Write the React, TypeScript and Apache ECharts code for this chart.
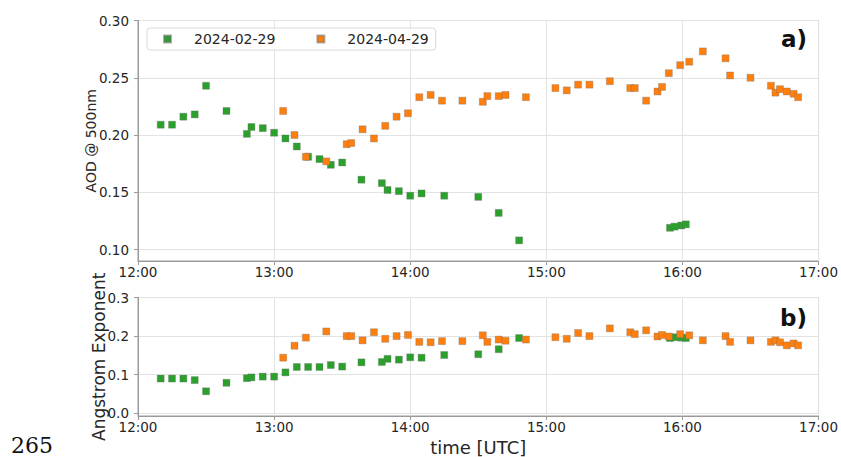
import React, { useEffect, useRef } from "react";
import * as echarts from "echarts";

// Observation times, minutes after midnight (UTC)
const FEB_TIME = [
  730, 735, 740, 745, 750, 759, 768, 770, 775, 780,
  785, 790, 795, 800, 805, 810, 818.5, 827.5, 830, 835,
  840, 845, 855, 870, 879, 888, 954.5, 956.5, 959.5, 961.5,
];
// Aerosol optical depth at 500 nm, 2024-02-29
const FEB_AOD = [
  0.209, 0.209, 0.216, 0.218, 0.243, 0.221, 0.201, 0.207, 0.206, 0.202,
  0.197, 0.19, 0.181, 0.179, 0.174, 0.176, 0.161, 0.158, 0.152, 0.151,
  0.147, 0.149, 0.147, 0.146, 0.132, 0.108, 0.119, 0.12, 0.121, 0.122,
];
// Angstrom exponent, 2024-02-29
const FEB_AE = [
  0.09, 0.09, 0.09, 0.086, 0.057, 0.079, 0.091, 0.093, 0.095, 0.095,
  0.106, 0.12, 0.12, 0.12, 0.125, 0.121, 0.132, 0.133, 0.141, 0.139,
  0.145, 0.144, 0.151, 0.153, 0.166, 0.195, 0.195, 0.197, 0.196, 0.195,
];

const APR_TIME = [
  784, 789, 794, 803, 812, 814, 819, 824, 829, 834,
  839, 844, 849, 854, 863, 872, 874, 879, 882, 891,
  904, 909, 914, 919, 928, 937, 939, 944, 949, 951,
  954, 959, 963, 969, 979, 981, 990, 999, 1001, 1003,
  1006, 1009, 1011,
];
const APR_AOD = [
  0.221, 0.2, 0.181, 0.177, 0.192, 0.193, 0.205, 0.197, 0.208, 0.216,
  0.219, 0.233, 0.235, 0.23, 0.23, 0.229, 0.234, 0.234, 0.235, 0.233,
  0.241, 0.239, 0.244, 0.244, 0.247, 0.241, 0.241, 0.23, 0.238, 0.242,
  0.254, 0.261, 0.264, 0.273, 0.267, 0.252, 0.25, 0.243, 0.237, 0.24,
  0.238, 0.236, 0.233,
];
const APR_AE = [
  0.144, 0.175, 0.196, 0.212, 0.2, 0.2, 0.189, 0.21, 0.193, 0.2,
  0.203, 0.185, 0.184, 0.187, 0.187, 0.202, 0.185, 0.191, 0.188, 0.191,
  0.197, 0.193, 0.208, 0.2, 0.22, 0.21, 0.205, 0.215, 0.199, 0.203,
  0.199, 0.205, 0.202, 0.189, 0.2, 0.185, 0.189, 0.185, 0.189, 0.184,
  0.176, 0.181, 0.176,
];

const SERIES_NAMES = ["2024-02-29", "2024-04-29"];
const AOD_TICKS = [0.1, 0.15, 0.2, 0.25, 0.3];
const AE_TICKS = [0.0, 0.1, 0.2, 0.3];

const GREEN = "#2ca02c";
const ORANGE = "#ff7f0e";
const EDGE = "rgba(110,110,110,0.55)";
const SPINE = "#9a9a9a";
const GRID = "#e3e3e3";
const TEXT = "#262626";
const FONT = "DejaVu Sans";

const clock = (m: number) =>
  `${String(Math.floor(m / 60)).padStart(2, "0")}:${String(m % 60).padStart(2, "0")}`;

const pairs = (t: number[], v: number[]) => t.map((x, i) => [x, v[i]]);

function xAxisFor(gridIndex: number, withName: boolean) {
  return {
    type: "value",
    gridIndex,
    min: 720,
    max: 1020,
    interval: 60,
    name: withName ? "time [UTC]" : "",
    nameLocation: "middle",
    nameGap: 22,
    nameMoveOverlap: false,
    nameTextStyle: { fontSize: 18, color: TEXT, fontFamily: FONT },
    axisLine: { show: true, onZero: false, lineStyle: { color: SPINE, width: 1 } },
    axisTick: { show: true, length: 4, lineStyle: { color: SPINE } },
    axisLabel: { formatter: clock, fontSize: 13.5, color: TEXT, fontFamily: FONT, margin: 4 },
    splitLine: { show: true, lineStyle: { color: GRID, width: 1 } },
  };
}

function yAxisFor(
  gridIndex: number,
  min: number,
  max: number,
  ticks: number[],
  digits: number,
  name: string,
  nameSize: number,
  nameGap: number
) {
  return {
    type: "value",
    gridIndex,
    min,
    max,
    name,
    nameLocation: "middle",
    nameGap,
    nameMoveOverlap: false,
    nameTextStyle: { fontSize: nameSize, color: TEXT, fontFamily: FONT },
    axisLine: { show: true, lineStyle: { color: SPINE, width: 1 } },
    axisTick: { show: true, length: 4, customValues: ticks, lineStyle: { color: SPINE } },
    axisLabel: {
      customValues: ticks,
      formatter: (v: number) => v.toFixed(digits),
      fontSize: 13.5,
      color: TEXT,
      fontFamily: FONT,
      margin: 9,
    },
    splitLine: { show: true, lineStyle: { color: GRID, width: 1 } },
  };
}

function scatter(name: string, color: string, axis: number, data: number[][]) {
  return {
    type: "scatter",
    name,
    xAxisIndex: axis,
    yAxisIndex: axis,
    symbol: "rect",
    symbolSize: 7,
    itemStyle: { color, borderColor: EDGE, borderWidth: 0.6, opacity: 1 },
    emphasis: { disabled: true },
    data,
  };
}

export default function App() {
  const ref = useRef<HTMLDivElement>(null);

  useEffect(() => {
    document.body.style.margin = "0";
    if (!ref.current) return;
    const chart = echarts.init(ref.current, undefined, { renderer: "svg" });
    chart.setOption({
      animation: false,
      backgroundColor: "#ffffff",
      grid: [
        { left: 138, top: 20.5, width: 681, height: 240.5, show: true, borderColor: SPINE, borderWidth: 1 },
        { left: 138, top: 297.5, width: 681, height: 119.5, show: true, borderColor: SPINE, borderWidth: 1 },
      ],
      xAxis: [xAxisFor(0, false), xAxisFor(1, true)],
      yAxis: [
        yAxisFor(0, 0.09, 0.3, AOD_TICKS, 2, "AOD @ 500nm", 14, 40),
        yAxisFor(1, -0.007, 0.3, AE_TICKS, 1, "Angstrom Exponent", 17, 31),
      ],
      legend: {
        data: SERIES_NAMES,
        left: 147,
        top: 28,
        icon: "rect",
        itemWidth: 7,
        itemHeight: 7,
        itemGap: 41,
        padding: [4, 7, 4, 16],
        borderColor: "#d9d9d9",
        borderWidth: 1,
        borderRadius: 3,
        backgroundColor: "rgba(255,255,255,0.8)",
        selectedMode: false,
        textStyle: { fontSize: 14, color: TEXT, fontFamily: FONT, padding: [0, 0, 0, 18] },
      },
      series: [
        scatter(SERIES_NAMES[0], GREEN, 0, pairs(FEB_TIME, FEB_AOD)),
        scatter(SERIES_NAMES[1], ORANGE, 0, pairs(APR_TIME, APR_AOD)),
        scatter(SERIES_NAMES[0], GREEN, 1, pairs(FEB_TIME, FEB_AE)),
        scatter(SERIES_NAMES[1], ORANGE, 1, pairs(APR_TIME, APR_AE)),
      ],
      graphic: [
        {
          type: "text",
          right: 34,
          top: 27,
          style: { text: "a)", fontSize: 23, fontWeight: "bold", fontFamily: FONT, fill: "#111" },
        },
        {
          type: "text",
          right: 34,
          top: 306,
          style: { text: "b)", fontSize: 23, fontWeight: "bold", fontFamily: FONT, fill: "#111" },
        },
        {
          type: "text",
          left: 11,
          top: 434,
          style: { text: "265", fontSize: 22, fontFamily: "DejaVu Serif", fill: "#111" },
        },
      ],
    });
    return () => chart.dispose();
  }, []);

  return <div ref={ref} style={{ width: 841, height: 457 }} />;
}
